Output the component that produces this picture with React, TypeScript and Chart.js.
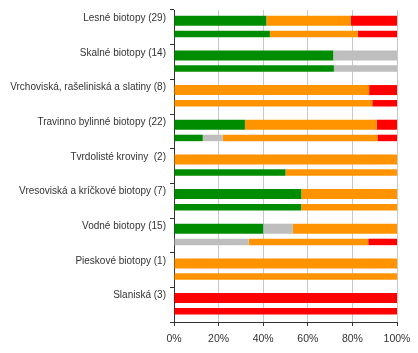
import React, { useEffect, useRef } from "react";
import { Chart, registerables } from "chart.js";

Chart.register(...registerables);

const categories = [
  "Lesné biotopy (29)",
  "Skalné biotopy (14)",
  "Vrchoviská, rašeliniská a slatiny (8)",
  "Travinno bylinné biotopy (22)",
  "Tvrdolisté kroviny  (2)",
  "Vresoviská a kríčkové biotopy (7)",
  "Vodné biotopy (15)",
  "Pieskové biotopy (1)",
  "Slaniská (3)",
];

// upper bar of each pair (%)
const greenA = [41.4, 71.4, 0, 31.8, 0, 57.1, 40.0, 0, 0];
const grayA = [0, 28.6, 0, 0, 0, 0, 13.3, 0, 0];
const orangeA = [37.9, 0, 87.5, 59.1, 100, 42.9, 46.7, 100, 0];
const redA = [20.7, 0, 12.5, 9.1, 0, 0, 0, 0, 100];

// lower bar of each pair (%)
const greenB = [43.0, 71.7, 0, 12.9, 50, 57.0, 0, 0, 0];
const grayB = [0, 28.3, 0, 8.9, 0, 0, 33.5, 0, 0];
const orangeB = [39.4, 0, 88.9, 69.4, 50, 43.0, 53.6, 100, 0];
const redB = [17.6, 0, 11.1, 8.8, 0, 0, 12.9, 0, 100];

const xTicks = [0, 20, 40, 60, 80, 100];

const GREEN = "#008C00";
const GRAY = "#BEBEBE";
const ORANGE = "#FF9400";
const RED = "#FF0000";

const FAMILY = "Arial, 'Liberation Sans', sans-serif";

export default function App() {
  const ref = useRef<HTMLCanvasElement | null>(null);

  useEffect(() => {
    document.body.style.margin = "0";
    document.body.style.background = "#fff";
    const canvas = ref.current;
    if (!canvas) return;
    const A = { stack: "a", barPercentage: 0.76, categoryPercentage: 0.762 };
    const B = { stack: "b", barPercentage: 0.49, categoryPercentage: 0.762 };
    const mk = (data: number[], color: string, extra: any) => ({
      data,
      backgroundColor: color,
      borderWidth: 0,
      ...extra,
    });
    const chart = new Chart(canvas, {
      type: "bar",
      data: {
        labels: categories,
        datasets: [
          mk(greenA, GREEN, A),
          mk(grayA, GRAY, A),
          mk(orangeA, ORANGE, A),
          mk(redA, RED, A),
          mk(greenB, GREEN, B),
          mk(grayB, GRAY, B),
          mk(orangeB, ORANGE, B),
          mk(redB, RED, B),
        ],
      },
      options: {
        indexAxis: "y",
        responsive: false,
        animation: false,
        layout: { padding: { left: 0, right: 21, top: 10, bottom: 0 } },
        plugins: { legend: { display: false }, tooltip: { enabled: false } },
        scales: {
          x: {
            type: "linear",
            stacked: true,
            min: 0,
            max: 100,
            afterBuildTicks: (s: any) => {
              s.ticks = xTicks.map((v) => ({ value: v }));
            },
            afterFit: (s: any) => {
              s.height = 31;
            },
            ticks: {
              callback: (v: any) => v + "%",
              font: { family: FAMILY, size: 10.5 },
              color: "#333",
              padding: 7,
              maxRotation: 0,
            },
            grid: {
              color: "#C8C8C8",
              tickColor: "#333",
              tickLength: 4,
              lineWidth: 1,
            },
            border: { color: "#333", width: 1 },
          },
          y: {
            type: "category",
            stacked: true,
            afterFit: (s: any) => {
              s.width = 174;
            },
            ticks: {
              font: { family: FAMILY, size: 10 },
              color: "#333",
              padding: 4,
              labelOffset: -9,
              autoSkip: false,
            },
            grid: {
              offset: true,
              drawOnChartArea: false,
              drawTicks: true,
              tickLength: 4,
              tickColor: "#333",
            },
            border: { color: "#333", width: 1 },
          },
        },
      },
    } as any);
    return () => chart.destroy();
  }, []);

  return <canvas ref={ref} width={418} height={353} style={{ display: "block" }} />;
}
